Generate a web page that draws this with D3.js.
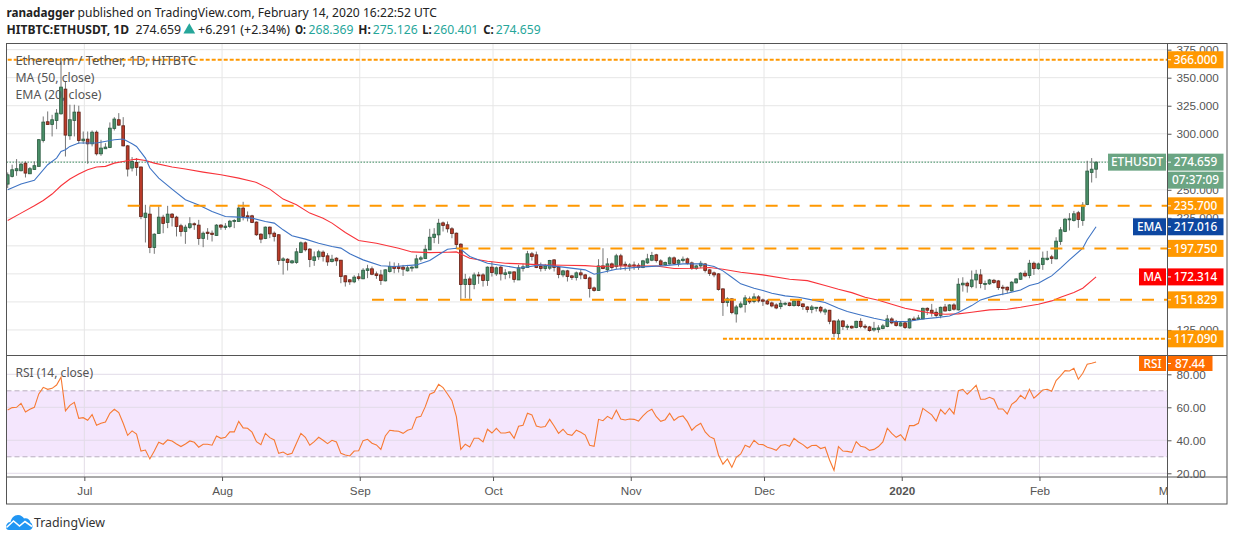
<!DOCTYPE html>
<html>
<head>
<meta charset="utf-8">
<script src="https://d3js.org/d3.v7.min.js"></script>
<style>
  body { margin: 0; background: #fff; }
  svg { display: block; font-family: "Noto Sans", sans-serif; }
  .tick text { fill: #555; font-size: 11.7px; }
</style>
</head>
<body>
<div id="chart"></div>
<script>
// daily candles, first one is Jun 14 2019, last one Feb 14 2020
var opens = [
  255.1,261.9,267,267,273.8,264.3,268.2,270.9,294,310.7,
  308.3,311.9,317.8,339.8,298.2,311.9,319.3,293.7,295.2,291,
  301.4,282.1,286.6,287.8,304.7,312.5,307.1,289.2,269.4,274.4,
  270.3,225.3,228.3,198.5,211,225.6,220.9,228.3,225.6,217.9,
  212.8,216.4,219.7,218.5,206.6,212.2,211.3,209.3,218.5,216.4,
  217.3,222,221.8,233.7,226.8,226.8,221.2,210.4,206.6,216.7,
  211.3,209.9,186.9,188.1,184.9,185.2,194.1,202.7,197.1,186.9,
  190.2,194.4,191.1,186,189,187.2,173.3,169.7,167.9,172.4,
  170.6,178,179.5,175,174.1,168.8,177.1,181.6,181.3,181,
  177.7,180.6,180.4,188.1,188.7,196.4,207.4,209.8,220.5,218.8,
  215.2,211.3,201.5,165.5,170.5,165.5,174.1,174.1,169.1,181,
  175,181,174.4,175.3,176.8,169.6,179.8,180.7,192.9,192,
  181.6,179.8,180.1,187.5,181,174.1,177.7,173.2,171.7,175.9,
  174.1,171.4,162.5,160.1,182.1,178.6,183.9,181.6,191.1,183.6,
  181.6,183,182.7,180.7,184.8,187.2,192,186.6,183,183.9,
  189.3,184.5,186.9,188.4,184.8,179.8,182.1,183.9,178.6,175.9,
  175,161.6,149.4,152.7,139.3,145.5,147.6,152.7,150.3,154.5,
  151.8,150.9,149.1,147.3,145.8,147.9,149.1,146.7,150.9,148.2,
  145.5,143.2,144.3,145.2,141,142.6,133,121.7,133,127.7,
  128.3,127.1,132.7,128.3,127.7,125,125.3,126.2,128,134.8,
  132.4,128.6,131.3,126.8,134.8,134.2,134.8,144.3,142.6,140.8,
  137.8,145.5,142.3,147.3,142.9,165.2,166.7,163.7,169.6,174.1,
  165.8,166.1,169.3,168.7,163.1,163.1,159.8,167,170.2,175.6,
  173.5,184.5,179.8,183.3,187.8,190.2,188.4,203.9,212.8,223.5,
  222.6,229.5,222.6,236.9,265.5,268.369
];
var highs = [
  265.5,272.4,277.4,274.4,275.3,270.3,275.3,295.3,315.4,319.9,
  316.9,322,364.5,346.7,325.9,325.9,325,302,302,302.9,
  302.9,294.6,291.6,310.1,314.8,318.4,314.8,290,279.2,278.3,
  270.9,236.6,235.2,211.3,235.2,227.7,235.7,229.2,226.8,219.7,
  218.8,225.6,220.9,223.2,212.8,215.8,213.7,219.4,219.4,220.3,
  223.2,223.8,236.6,239.3,230.7,227.7,221.8,211.3,217.3,217.3,
  212.8,210.4,189.9,189,187.5,198,203.9,203.9,198,195,
  196.5,195.9,193.5,192,189.9,187.5,173.8,170.3,173.8,175.6,
  180.1,183.1,181.6,177.1,178.6,179.2,186,185.2,184.6,183,
  183,182.1,192,191.1,200.9,215.2,215.8,224.1,221.7,221.7,
  216.7,211.9,202.4,175,172.6,176.2,176.8,175.6,181.6,186,
  181.6,182.1,179.2,176.8,177.1,183,183.9,195.5,194.6,194.9,
  185.1,183.9,187.5,188.1,182.1,178.6,178.6,174.1,177.1,178.6,
  175,172.6,163.7,188.1,197.9,189,185.1,192.9,192.9,186,
  184.5,186,184.5,187.5,192.9,194.6,192.9,188.1,186,190.5,
  190.5,188.1,190.5,189.6,186,183,186.6,184.5,179.2,177.1,
  175.6,162.2,154.2,153.3,147.3,150.3,156,154.8,157.7,156,
  153,152.4,150.3,148.8,151.8,150,149.7,152.4,151.8,148.8,
  146.4,147.3,145.5,146.4,144.3,142.9,133.6,134.8,133.9,130.1,
  128.9,133.3,135.4,130.1,128.6,132.2,129.2,130.4,138.4,136.3,
  133.9,132.4,132.4,135.4,136.9,138.4,144.9,145.2,148.2,144.3,
  145.8,148.2,147.9,148.8,171.1,172,168.1,178,178.6,179.2,
  169,170.5,170.5,169.6,165.2,163.7,168.5,171.1,176.5,178,
  187.5,186,185.1,194.9,195.5,192,207.7,216.7,224.7,229.2,
  231.2,231.2,239,275.9,278.3,275.126
];
var lows = [
  251.5,261,262.5,266.4,261,264,267.9,270.9,292.2,308,
  297.6,304.1,317,279.7,294.6,297.6,291,291,273.2,288.7,
  280.6,280.3,286.6,287.2,302.9,307.1,288.7,261.9,266.4,262.5,
  223.8,203,193.5,192.9,210.7,211.3,215.8,217.3,208.4,208.4,
  201.8,214.9,214.3,200.9,198.8,205.4,203.9,209,214.3,214.3,
  215.8,215.8,221.8,222.7,221.8,220.3,208.9,202.4,206,206.9,
  203.9,183.1,174.4,178,184,184,193.5,195,181,182.2,
  187.5,186,182.2,185.2,182.2,166.7,163.7,165.2,166.7,169.1,
  170.3,171.2,173.8,170.6,165.2,168.2,176.2,175.6,176.2,173.2,
  177.1,177.1,180.1,186,188.7,196.4,202.4,201.8,212.8,211.9,
  206.8,197.9,151.8,153.3,152.7,161.3,166.1,163.7,164.3,172.6,
  173.2,169.1,170.2,171.1,167.3,169.6,177.1,180.7,186.9,180.1,
  177.1,177.7,178.6,177.1,171.1,172,168.2,169.6,169.1,170.2,
  170.2,153.9,159.2,160.1,179.2,176.2,178.6,179.2,178.6,178,
  177.7,178.6,178.6,180.1,183.9,186.3,185.1,182.1,182.1,183.3,
  183.3,181.6,185.1,183.3,178.6,178.6,180.1,176.2,173.2,172,
  160.1,137.5,145.8,139,131.6,144.4,140.5,148.2,148.8,149.4,
  146.4,147.3,145.2,143.5,143.5,146.7,146.1,145.8,145.8,142.9,
  140.5,139.9,141.4,139.9,138.4,130.1,118.5,117.09,125,125,
  125.9,126.5,126.5,125.6,123.5,123.5,122.6,125.6,127.4,130.1,
  128,128,125.9,126.2,133.3,133.9,134.5,138.4,136.9,136,
  135.4,141.4,141.7,142.3,142.3,159.2,158.3,162.2,162.2,162.2,
  160.7,165.2,166.1,160.7,156,157.7,159.2,166.4,169.6,172,
  171.1,174.1,178.6,178.6,186.9,183.9,188.1,200.9,212.2,213.7,
  221.7,216.1,217.9,236.3,256.5,260.401
];
var closes = [
  263.4,267.9,268.8,272.9,264.9,268.8,271.5,294.7,310.4,308.3,
  312.5,318.4,341.6,298.8,312.5,319.3,294,295.2,291,301.4,
  282.1,287.2,288.1,305,313.1,307.7,289.2,268.5,275.3,270,
  226.2,229.2,198.5,210.4,225.6,220,228.3,225.3,217.3,212.8,
  216.7,219.7,218.8,206.6,211.3,211,210.2,218.5,216.7,217.6,
  222,222.7,233.7,226.2,225.6,220.9,209.9,206,216.7,210.7,
  208.4,186.9,188.4,185.2,186.6,194.7,202.7,196.5,187.8,190.2,
  194.7,190.5,185.7,188.1,186.6,172.7,167.9,167.9,172.1,170.9,
  178.3,179.5,174.7,173.5,169.1,178.6,181.6,179.8,179.8,179.2,
  180.4,181,188.4,189.3,197,207.7,210.4,220.2,218.2,215.2,
  211,201.2,165.5,170.2,165.5,174.1,173.2,169.1,181,176.2,
  180.4,175,175.9,176.8,170,180.4,181.3,192.9,190.5,180.7,
  179.8,182.1,186.9,180.7,174.4,177.7,172.6,171.7,175.9,174.1,
  170.8,161.9,160.1,182.1,179.8,183.9,180.7,191.1,182.7,182.4,
  183,182.4,180.7,186.6,188.4,191.4,186.9,183,185.1,189.3,
  184.2,187.2,188.1,184.2,179.8,182.1,184.5,178,175.3,174.1,
  161,149.4,152.7,140.5,145.5,148.2,153.6,150,154.5,150.9,
  150.6,148.2,146.4,144.6,148.8,148.8,146.7,150.9,146.7,145.8,
  143.2,145.5,145.2,141.9,142.9,132.7,122,133,128,128.3,
  126.8,132.7,128,127.4,124.4,126.5,126.8,128.6,134.8,131.3,
  128.9,131.3,127.1,134.8,133.9,135.7,144.3,142.6,140.2,137.8,
  145.2,141.9,147.3,143.5,165.8,166.7,164.3,169.6,174.7,166.4,
  166.4,169.6,167.3,162.8,162.5,160.7,167.6,170.5,175.6,173.2,
  184.5,179.8,183.9,189,189,188.7,204.2,214.3,223.8,224.1,
  228.6,223.5,236.3,266.7,268.4,274.659
];
var rsiValues = [
  58.4,59.8,60,62.4,57.2,58.8,60,68.1,72.1,70.9,
  71.5,73.5,78.2,57.8,61.2,63,53.3,53.7,52.1,55.6,
  49.1,50.3,51.1,56.4,58.8,56.8,50.3,43,45.7,43.8,
  33.5,34.1,28.7,33.5,38.8,37.6,40.2,39.6,37.8,36.2,
  37.8,39.6,38.8,35.8,37.6,37.6,37,42.6,41.2,41.8,
  45.1,45.1,51.5,47.5,47.3,44.9,39.2,37.4,44.2,41.6,
  40.2,32.1,32.9,31.3,32.1,38.2,44.2,41.8,37,39.2,
  41.8,40,38,40,39,32.1,31.1,30.5,33.5,33.7,
  39.8,40.6,38.2,37.2,34.5,42.6,46.1,45.7,45.5,44.2,
  46.1,46.9,53.9,54.5,60.4,67.9,69.1,73.9,71.9,68.1,
  64,54.3,34.5,37.6,36,41.2,41.2,39,46.7,44.4,
  47.3,44.4,44.4,45.1,41.2,48.5,49.1,56.4,55.4,48.7,
  47.9,48.3,52.7,48.7,44.2,46.7,43.6,43,46.1,44.9,
  43.2,37,36.4,52.7,51.9,54.5,52.9,58.2,52.9,52.3,
  52.9,52.7,51.7,54.8,57.4,58.8,54.3,51.5,52.5,56.4,
  52.1,54.1,54.8,51.3,46.1,48.7,50.3,45.1,42.2,41,
  31.1,25.5,28.7,23.6,29.7,31.7,37,35.8,40,37.6,
  37.4,35.8,35,33.9,36.8,37.4,36.4,41.2,39,37.4,
  35.2,36.8,37,35,35.8,28.1,21.8,36.2,33.5,33.3,
  32.7,39.2,36.4,35.8,33.9,34.5,36.2,39,47.3,44.2,
  41.8,43.4,40,48.9,48.9,50.3,59.4,57.4,55.4,51.7,
  58.6,55.8,59.4,56,70.1,70.9,67.9,70.5,73.3,64.9,
  64.9,66.1,64.9,59,59,56,61.8,63.8,67.3,65.1,
  70.9,65.5,67.9,70.5,70.9,69.7,76.2,79,82.2,82,
  83.6,77,80.6,86.1,86.7,87.44
];
// moving averages, every few days
var emaDays = [0,3,6,9,11,12,13,14,16,20,24,26,28,29,31,32,34,37,40,43,46,49,52,55,58,60,62,64,67,70,73,75,77,80,84,87,92,95,97,99,101,102,104,108,112,115,120,125,130,132,134,137,142,148,152,156,159,161,163,165,168,170,172,175,178,181,184,187,189,192,195,198,200,203,206,209,212,214,217,219,222,225,228,230,232,234,235,237,239,242,243,245];
var emaValues = [250,255.1,258.4,272.4,278.3,284.2,285.7,288.7,291.7,291.7,294.7,295.3,291.1,288.7,278.3,269.4,260.4,250.6,241.1,236.4,230.7,226.2,225.6,224.7,221.8,220.3,214.3,209,206,202.4,199.4,198,192.9,187.5,182.2,181.6,183,186.9,192,197,197.9,197,190.5,184.5,182.1,180,183,181,178.6,174.7,176.5,179.2,181,182.4,183.9,184,181.6,177.7,172,166.1,162.2,160.1,157.7,155.4,154.2,151.8,149.4,144.3,141.4,138.4,135.4,133,132.4,132.7,134.8,136,137.5,140.5,146.7,151.8,155.4,157.7,160.7,164.6,166.7,171.1,173.2,180.1,187.5,197.9,205.4,217.016];
var maDays = [0,3,6,8,10,12,14,16,18,20,22,24,26,28,29,31,33,37,40,44,48,52,56,59,62,65,68,71,73,76,79,83,88,91,95,99,101,104,108,112,116,120,125,130,133,137,142,146,150,155,158,161,165,170,176,180,184,187,190,193,196,199,202,205,208,211,214,217,221,225,228,232,235,237,240,242,245];
var maValues = [222.6,229.2,235.7,240.5,246.2,253.6,259.6,264,267.9,270.3,270.9,273.8,275.3,276.8,277.4,276.2,273.8,270.3,268.5,265.8,263.4,260.4,256.6,250.6,241.7,236.6,229.2,224.7,220.3,211.9,204.8,202.4,197.9,194.6,194,194.3,194.6,189,186.3,184.5,183.9,183,182.7,182.4,181.6,182.1,182.1,182.1,179.8,180,180.7,179.2,176.5,174.1,170.2,169,164.6,161.3,158.3,154.2,151.5,147.9,144.3,142,139.9,139,139.3,140.8,142.9,143.5,145.2,147.9,150.9,154.2,158.3,162.2,172.314];

// support / resistance levels and the day each one starts on
var levelValues = [366, 235.7, 197.75, 151.829, 117.09];
var levelStarts = [0, 27, 101, 82, 161];
var levelDense = [true, false, false, false, true];

var gridTicks = [125, 150, 175, 200, 225, 250, 275, 300, 325, 350, 375];
// the other tick labels sit fully under the price tags
var priceTicks = [125, 225, 250, 300, 325, 350, 375];
var rsiTicks = [20, 40, 60, 80];
var rsiBand = [30, 70];
var monthStarts = [17, 48, 79, 109, 140, 170, 201, 232, 261];
var monthLabels = ["Jul", "Aug", "Sep", "Oct", "Nov", "Dec", "2020", "Feb", "Mar"];

var lastPrice = 274.659;
var emaLast = 217.016;
var maLast = 172.314;
var rsiLast = 87.44;

var svgWidth = 1234, svgHeight = 541;
var left = 6.5, right = 1167.5, outerRight = 1227;
var top1 = 43.5, bottom1 = 355.5, bottom2 = 477, bottom3 = 504;
var tagWidth = 56;

var svg = d3.select("#chart").append("svg")
    .attr("width", svgWidth)
    .attr("height", svgHeight);

// scales
var xScale = d3.scaleLinear().domain([0, 245]).range([7.7, 1096.1]);
var yScale = d3.scaleLinear().domain([102.2, 380.5]).range([bottom1, top1]);
var rsiScale = d3.scaleLinear().domain([17.75, 91.4]).range([bottom2, bottom1]);
// month grid sits a touch to the right of the candle centres
var monthX = d => xScale(d + 0.25);

var defs = svg.append("defs");
defs.append("clipPath").attr("id", "clipMain").append("rect")
    .attr("x", left).attr("y", top1).attr("width", right - left).attr("height", bottom1 - top1);
defs.append("clipPath").attr("id", "clipRsi").append("rect")
    .attr("x", left).attr("y", bottom1).attr("width", right - left).attr("height", bottom2 - bottom1);
defs.append("clipPath").attr("id", "clipTime").append("rect")
    .attr("x", left).attr("y", bottom2).attr("width", right - left).attr("height", bottom3 - bottom2);

// header, each piece is fitted to the width it has in the picture
function headerText(x, y, width, label, bold, color) {
    svg.append("text")
        .attr("x", x).attr("y", y)
        .attr("font-size", 12.6)
        .attr("font-weight", bold ? 700 : 400)
        .attr("fill", color || "#222")
        .attr("textLength", width)
        .attr("lengthAdjust", "spacingAndGlyphs")
        .text(label);
}
var teal = "#26a69a";
headerText(6.5, 17, 68, "ranadagger", true);
headerText(77.5, 17, 359.5, "published on TradingView.com, February 14, 2020 16:22:52 UTC", false);
headerText(6.5, 34, 122.5, "HITBTC:ETHUSDT, 1D", true);
headerText(135.5, 34, 45.5, "274.659", false);
svg.append("path")
    .attr("d", d3.symbol(d3.symbolTriangle, 60)())
    .attr("transform", "translate(189.3,30)")
    .attr("fill", teal);
headerText(198, 34, 92, "+6.291 (+2.34%)", false);
headerText(295, 34, 11, "O:", true);
headerText(308.5, 34, 45, "268.369", false, teal);
headerText(358.3, 34, 12.5, "H:", true);
headerText(372.7, 34, 45, "275.126", false, teal);
headerText(422.3, 34, 9.5, "L:", true);
headerText(433.3, 34, 45, "260.401", false, teal);
headerText(483.3, 34, 10.5, "C:", true);
headerText(495.7, 34, 45, "274.659", false, teal);

// grid
var gridColor = "#e6e6e6";
var main = svg.append("g").attr("clip-path", "url(#clipMain)");
var rsiPane = svg.append("g").attr("clip-path", "url(#clipRsi)");

main.selectAll(".hgrid").data(gridTicks).enter().append("line")
    .attr("x1", left).attr("x2", right)
    .attr("y1", d => yScale(d)).attr("y2", d => yScale(d))
    .attr("stroke", gridColor);
main.selectAll(".vgrid").data(monthStarts).enter().append("line")
    .attr("x1", monthX).attr("x2", monthX)
    .attr("y1", top1).attr("y2", bottom1)
    .attr("stroke", gridColor);

// rsi band goes under the grid
rsiPane.append("rect")
    .attr("x", left).attr("width", right - left)
    .attr("y", rsiScale(rsiBand[1]))
    .attr("height", rsiScale(rsiBand[0]) - rsiScale(rsiBand[1]))
    .attr("fill", "#f4e6fd");
rsiPane.selectAll(".hgrid").data(rsiTicks).enter().append("line")
    .attr("x1", left).attr("x2", right)
    .attr("y1", d => rsiScale(d)).attr("y2", d => rsiScale(d))
    .attr("stroke", "#e2dbe8");
rsiPane.selectAll(".vgrid").data(monthStarts).enter().append("line")
    .attr("x1", monthX).attr("x2", monthX)
    .attr("y1", bottom1).attr("y2", bottom2)
    .attr("stroke", "#e2dde6");
rsiPane.selectAll(".bandline").data(rsiBand).enter().append("line")
    .attr("x1", left).attr("x2", right)
    .attr("y1", d => rsiScale(d)).attr("y2", d => rsiScale(d))
    .attr("stroke", "#b9aebf")
    .attr("stroke-dasharray", "5 3");

// last price dotted line
main.append("line")
    .attr("x1", left).attr("x2", 1108)
    .attr("y1", yScale(lastPrice)).attr("y2", yScale(lastPrice))
    .attr("stroke", "#3f8f63")
    .attr("stroke-dasharray", "1.5 1.5");

// candles
var candles = closes.map((c, i) => ({ i: i, o: opens[i], h: highs[i], l: lows[i], c: c }));
main.selectAll(".wick").data(candles).enter().append("line")
    .attr("x1", d => xScale(d.i)).attr("x2", d => xScale(d.i))
    .attr("y1", d => yScale(d.h)).attr("y2", d => yScale(d.l))
    .attr("stroke", "#666")
    .attr("stroke-width", 0.9);
main.selectAll(".body").data(candles).enter().append("rect")
    .attr("x", d => xScale(d.i) - 1.4)
    .attr("width", 2.8)
    .attr("y", d => yScale(Math.max(d.o, d.c)))
    .attr("height", d => Math.max(1, Math.abs(yScale(d.o) - yScale(d.c))))
    .attr("fill", d => d.c >= d.o ? "#4a8f68" : "#bb3b29")
    .attr("stroke", d => d.c >= d.o ? "#2b5a40" : "#5f2015")
    .attr("stroke-width", 0.8);

// ma + ema
var priceLine = d3.line().x(d => xScale(d[0])).y(d => yScale(d[1]));
main.append("path")
    .attr("d", priceLine(d3.zip(maDays, maValues)))
    .attr("fill", "none").attr("stroke", "#f8333a").attr("stroke-width", 1.1);
main.append("path")
    .attr("d", priceLine(d3.zip(emaDays, emaValues)))
    .attr("fill", "none").attr("stroke", "#3f74c4").attr("stroke-width", 1.1);

// levels
main.selectAll(".level").data(levelValues).enter().append("line")
    .attr("x1", (d, i) => xScale(levelStarts[i]))
    .attr("x2", right)
    .attr("y1", d => yScale(d)).attr("y2", d => yScale(d))
    .attr("stroke", "#ff9800")
    .attr("stroke-width", 2)
    .attr("stroke-dasharray", (d, i) => levelDense[i] ? "4 2" : "12 10");

// rsi line
var rsiLine = d3.line().x((d, i) => xScale(i)).y(d => rsiScale(d));
rsiPane.append("path")
    .attr("d", rsiLine(rsiValues))
    .attr("fill", "none").attr("stroke", "#f77a33").attr("stroke-width", 1.1);

// pane legends
var legendTexts = ["Ethereum / Tether, 1D, HITBTC", "MA (50, close)", "EMA (20, close)", "RSI (14, close)"];
var legendY = [65, 82, 99, 377];
var legendWidth = [180.5, 79, 86, 77.5];
svg.selectAll(".legend").data(legendTexts).enter().append("text")
    .attr("x", 15.5)
    .attr("y", (d, i) => legendY[i])
    .attr("font-size", 12.6)
    .attr("fill", "#555")
    .attr("textLength", (d, i) => legendWidth[i])
    .attr("lengthAdjust", "spacingAndGlyphs")
    .text(d => d);

// axes
var priceAxis = d3.axisRight(yScale).tickValues(priceTicks).tickSize(4).tickPadding(5)
    .tickFormat(d3.format(".3f"));
var rsiAxis = d3.axisRight(rsiScale).tickValues(rsiTicks).tickSize(4).tickPadding(5)
    .tickFormat(d3.format(".2f"));
var timeAxis = d3.axisBottom(xScale).tickValues(monthStarts.map(d => d + 0.25)).tickSize(4).tickPadding(6)
    .tickFormat((d, i) => monthLabels[i]);

function styleAxis(g) {
    g.select(".domain").remove();
    g.selectAll(".tick line").attr("stroke", "#555");
}
svg.append("g").attr("transform", `translate(${right},0)`).call(priceAxis).call(styleAxis);
svg.append("g").attr("transform", `translate(${right},0)`).call(rsiAxis).call(styleAxis);
svg.append("g").attr("clip-path", "url(#clipTime)").append("g")
    .attr("transform", `translate(0,${bottom2})`).call(timeAxis).call(styleAxis)
    .selectAll(".tick text")
    .filter(d => d === 201.25)
    .attr("font-weight", 600);

// tags on the price scale
function addTag(x, w, yMid, fill, label, h) {
    h = h || 17;
    var g = svg.append("g");
    g.append("rect")
        .attr("x", x).attr("y", yMid - h / 2)
        .attr("width", w).attr("height", h)
        .attr("fill", fill);
    g.append("text")
        .attr("x", x + w / 2).attr("y", yMid)
        .attr("dy", "0.35em")
        .attr("text-anchor", "middle")
        .attr("font-size", 11.8)
        .attr("font-weight", 500)
        .attr("fill", "#fff")
        .text(label);
}
// value tag with its small white tick
function addValueTag(yMid, fill, label, w, h) {
    addTag(right, w || tagWidth, yMid, fill, label, h);
    svg.append("line")
        .attr("x1", right).attr("x2", right + 3.5)
        .attr("y1", yMid).attr("y2", yMid)
        .attr("stroke", "#fff");
}
var fmt3 = d3.format(".3f");
levelValues.forEach(function(v) {
    addValueTag(yScale(v), "#ff9800", fmt3(v));
});
addValueTag(yScale(lastPrice), "#6ba583", fmt3(lastPrice));
addTag(right, tagWidth, yScale(lastPrice) + 18, "#6ba583", "07:37:09");
addTag(1108, 58, yScale(lastPrice), "#6ba583", "ETHUSDT");
addValueTag(yScale(emaLast), "#0d47a1", fmt3(emaLast));
addTag(1133, 33, yScale(emaLast), "#0d47a1", "EMA");
addValueTag(yScale(maLast), "#ff0000", fmt3(maLast));
addTag(1139, 27, yScale(maLast), "#ff0000", "MA");
addValueTag(363.5, "#ff6d00", d3.format(".2f")(rsiLast), 45, 15);
addTag(1139, 27, 363.5, "#ff6d00", "RSI", 15);

// frame
var frameColor = "#555";
svg.append("rect")
    .attr("x", left).attr("y", top1)
    .attr("width", outerRight - left).attr("height", bottom3 - top1)
    .attr("fill", "none").attr("stroke", frameColor);
svg.append("line").attr("x1", left).attr("x2", outerRight).attr("y1", bottom1).attr("y2", bottom1).attr("stroke", frameColor);
svg.append("line").attr("x1", left).attr("x2", outerRight).attr("y1", bottom2).attr("y2", bottom2).attr("stroke", frameColor);
svg.append("line").attr("x1", right).attr("x2", right).attr("y1", top1).attr("y2", bottom3).attr("stroke", frameColor);

// logo
var logo = svg.append("g").attr("transform", "translate(6,515)");
logo.append("path")
    .attr("d", "M0 12 C0 9 2 7 4.5 7 C5.5 3 8 0 12 0 C15 0 17 2 18 3.5 C21 2.5 24 4.5 24.5 7.5 C26 8.5 26.5 10 26.5 11.5 C26.5 13.5 25 15 23 15 L3 15 C1 15 0 14 0 12 Z")
    .attr("fill", "#2196f3");
logo.append("path")
    .attr("d", "M0.5 12.5 L7.5 6 L13.5 11 L19 6.5 L26 11.5")
    .attr("fill", "none").attr("stroke", "#fff").attr("stroke-width", 1.6);
svg.append("text")
    .attr("x", 34).attr("y", 527)
    .attr("font-size", 13)
    .attr("fill", "#333")
    .attr("textLength", 71)
    .attr("lengthAdjust", "spacingAndGlyphs")
    .text("TradingView");
</script>
</body>
</html>
